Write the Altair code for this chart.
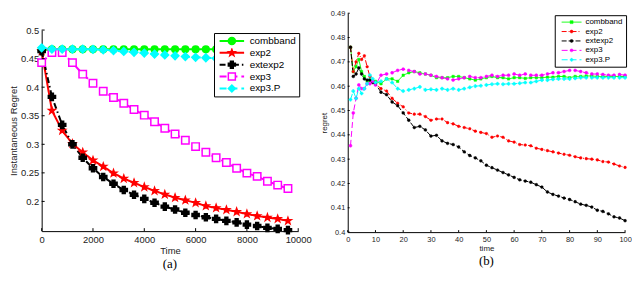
import altair as alt
import pandas as pd

FONT = "Liberation Sans"
series = ["combband", "exp2", "extexp2", "exp3", "exp3.P"]
colors = ["#00ff00", "#ff0000", "#000000", "#ff00ff", "#00ffff"]

# ---------------- panel (a) ----------------
time_a = [0, 400, 800, 1200, 1600, 2000, 2400, 2800, 3200, 3600, 4000, 4400, 4800,
          5200, 5600, 6000, 6400, 6800, 7200, 7600, 8000, 8400, 8800, 9200, 9600]
combband_a = [0.4645, 0.4662, 0.4662, 0.4662, 0.4662, 0.4662, 0.4662, 0.4662, 0.4662,
              0.4662, 0.4662, 0.4662, 0.4662, 0.4662, 0.4662, 0.4662, 0.4662, 0.4662,
              0.4662, 0.4662, 0.4662, 0.4662, 0.4662, 0.4662, 0.4662]
exp2_a = [0.463, 0.359, 0.324, 0.301, 0.286, 0.272, 0.261, 0.2495, 0.240, 0.2326, 0.2252,
          0.2185, 0.2123, 0.2066, 0.2021, 0.1976, 0.192, 0.1886, 0.1853, 0.1819, 0.178,
          0.1746, 0.1718, 0.1695, 0.166]
extexp2_a = [0.463, 0.383, 0.334, 0.300, 0.2765, 0.258, 0.2427, 0.231, 0.220, 0.2117,
             0.2044, 0.1976, 0.1909, 0.1858, 0.1802, 0.1762, 0.1723, 0.1695, 0.166,
             0.1633, 0.1593, 0.157, 0.1537, 0.152, 0.1498]
exp3_a = [0.4430, 0.4606, 0.4606, 0.4430, 0.4228, 0.407, 0.393, 0.3818, 0.372, 0.361,
          0.351, 0.3395, 0.328, 0.318, 0.307, 0.296, 0.286, 0.2765, 0.268, 0.258, 0.2495,
          0.2438, 0.2353, 0.2286, 0.2225]
exp3P_a = [0.469, 0.4665, 0.4665, 0.4665, 0.4665, 0.4662, 0.4655, 0.464, 0.4625, 0.461,
           0.4598, 0.458, 0.4565, 0.455, 0.4535, 0.4522, 0.4515, 0.4505, 0.4495, 0.4485,
           0.4475, 0.4465, 0.4455, 0.4448, 0.444]
xticks_a = [0, 2000, 4000, 6000, 8000, 10000]
yticks_a = [0.2, 0.25, 0.3, 0.35, 0.4, 0.45, 0.5]

# ---------------- panel (b) ----------------
time_b = [1, 2, 3, 4, 5, 6, 7, 8, 9, 10, 12, 14, 16, 18, 20, 22, 24, 26, 28, 30, 32, 34,
          36, 38, 40, 42, 44, 46, 48, 50, 52, 54, 56, 58, 60, 62, 64, 66, 68, 70, 72, 74,
          76, 78, 80, 82, 84, 86, 88, 90, 92, 94, 96, 98, 100]
combband_b = [0.476, 0.466, 0.468, 0.471, 0.466, 0.464, 0.462, 0.4625, 0.462, 0.462,
              0.461, 0.463, 0.463, 0.462, 0.4645, 0.4655, 0.466, 0.4655, 0.465, 0.4645,
              0.4635, 0.4635, 0.4635, 0.464, 0.464, 0.4635, 0.463, 0.4625, 0.463, 0.4635,
              0.464, 0.4635, 0.4635, 0.463, 0.4635, 0.4635, 0.4632, 0.4635, 0.4635, 0.4635,
              0.4637, 0.4637, 0.464, 0.464, 0.4635, 0.464, 0.464, 0.4642, 0.4642, 0.464,
              0.464, 0.464, 0.464, 0.464, 0.464]
exp2_b = [0.476, 0.466, 0.470, 0.4735, 0.471, 0.4725, 0.468, 0.464, 0.462, 0.461,
          0.459, 0.458, 0.455, 0.453, 0.4515, 0.449, 0.4485, 0.4485, 0.4475, 0.446,
          0.4465, 0.4465, 0.445, 0.4445, 0.4435, 0.443, 0.4425, 0.4415, 0.441, 0.4405,
          0.439, 0.4395, 0.439, 0.4375, 0.437, 0.436, 0.4358, 0.4355, 0.4345, 0.434,
          0.4335, 0.433, 0.4325, 0.432, 0.4316, 0.431, 0.4305, 0.4302, 0.430, 0.4297,
          0.429, 0.4288, 0.428, 0.4272, 0.4266]
extexp2_b = [0.476, 0.464, 0.465, 0.4675, 0.465, 0.463, 0.4625, 0.4625, 0.4615, 0.461,
             0.4575, 0.4565, 0.4535, 0.452, 0.449, 0.446, 0.443, 0.4435, 0.442, 0.4395,
             0.4398, 0.4375, 0.4365, 0.436, 0.435, 0.433, 0.4315, 0.4305, 0.4293, 0.4275,
             0.4265, 0.4255, 0.4245, 0.4235, 0.4225, 0.4215, 0.421, 0.4205, 0.4195, 0.4185,
             0.4165, 0.4155, 0.4148, 0.414, 0.4134, 0.4125, 0.4115, 0.411, 0.4103, 0.409,
             0.4085, 0.4075, 0.4063, 0.4058, 0.4047]
exp3_b = [0.4355, 0.449, 0.455, 0.4605, 0.459, 0.459, 0.461, 0.461, 0.462, 0.4605,
          0.4645, 0.465, 0.4655, 0.4665, 0.467, 0.4665, 0.466, 0.465, 0.465, 0.4645,
          0.464, 0.4635, 0.463, 0.4625, 0.463, 0.4635, 0.464, 0.4635, 0.4635, 0.464,
          0.4645, 0.464, 0.4645, 0.4645, 0.465, 0.4645, 0.465, 0.4645, 0.4645, 0.4645,
          0.465, 0.4655, 0.4655, 0.466, 0.4665, 0.4665, 0.466, 0.4655, 0.465, 0.465,
          0.4648, 0.4645, 0.4645, 0.4648, 0.4645]
exp3P_b = [0.4545, 0.458, 0.455, 0.459, 0.457, 0.459, 0.461, 0.4645, 0.463, 0.4615,
           0.462, 0.463, 0.4615, 0.459, 0.458, 0.4585, 0.459, 0.4597, 0.4585, 0.4587,
           0.4585, 0.459, 0.4585, 0.459, 0.4585, 0.459, 0.4595, 0.460, 0.4602, 0.4605,
           0.4608, 0.461, 0.4608, 0.461, 0.461, 0.4612, 0.4615, 0.4615, 0.462, 0.4625,
           0.4625, 0.4628, 0.463, 0.463, 0.463, 0.4632, 0.4635, 0.4635, 0.4635, 0.4635,
           0.4635, 0.4635, 0.4635, 0.4635, 0.4635]
xticks_b = [0, 10, 20, 30, 40, 50, 60, 70, 80, 90, 100]
yticks_b = [0.4, 0.41, 0.42, 0.43, 0.44, 0.45, 0.46, 0.47, 0.48, 0.49]

STAR = "M0,-1L0.24,-0.33L0.95,-0.31L0.38,0.12L0.59,0.81L0,0.4L-0.59,0.81L-0.38,0.12L-0.95,-0.31L-0.24,-0.33Z"

# marker-legend keys (distinct from line-legend keys so the two legends stay separate)
marker_keys = ["m_" + s for s in series]


def build_df(times, cols):
    rows = []
    for name, mk, vals in zip(series, marker_keys, cols):
        for t, v in zip(times, vals):
            rows.append({"series": name, "series2": mk, "t": t, "v": v})
    return pd.DataFrame(rows)


def panel(df, W, H, xdom, ydom, xticks, yticks, xtitle, ytitle, lab_fs, tit_fs, lw,
          dashes, shapes, sizes, fills, pt_sw, legx, legy, leg_fs, leg_size, leg_path,
          leg_rowpad, sym_off, lab_off, clip_h, caption, tick_len):
    xs = alt.Scale(domain=xdom, nice=False, zero=False)
    ys = alt.Scale(domain=ydom, nice=False, zero=False)
    ax_common = dict(ticks=False, labelFontSize=lab_fs, titleFontSize=tit_fs,
                     labelFont=FONT, titleFont=FONT, titleFontWeight="normal",
                     labelColor="#222", titleColor="#222", domainColor="#000",
                     labelPadding=3, titlePadding=2, grid=False, labelFlush=False,
                     labelOverlap=False)
    xax = alt.Axis(values=xticks, format="d", title=xtitle, **ax_common)
    yax = alt.Axis(values=yticks, format="~g", title=ytitle, **ax_common)
    common_leg = dict(title=None, orient="none", legendX=legx, legendY=legy,
                      labelFontSize=leg_fs, labelFont=FONT, symbolSize=leg_size,
                      symbolOffset=sym_off, labelOffset=lab_off, rowPadding=leg_rowpad,
                      padding=3, clipHeight=clip_h)
    # line legend: white box, frame, line samples and the labels
    legA = alt.Legend(symbolType=leg_path, symbolStrokeWidth=lw, labelColor="#000",
                      symbolFillColor="transparent", strokeColor="#000",
                      fillColor="#fff", **common_leg)
    # marker legend: drawn on top of the line samples, no labels of its own
    legB = alt.Legend(symbolStrokeWidth=pt_sw, labelExpr="''", **common_leg)
    base = alt.Chart(df)
    X = alt.X("t:Q", scale=xs, axis=xax)
    Y = alt.Y("v:Q", scale=ys, axis=yax)
    lines = base.mark_line(strokeWidth=lw).encode(
        x=X, y=Y,
        color=alt.Color("series:N", scale=alt.Scale(domain=series, range=colors), legend=legA),
        strokeDash=alt.StrokeDash("series:N", scale=alt.Scale(domain=series, range=dashes), legend=legA),
    )
    pts = base.mark_point(opacity=1, strokeWidth=pt_sw).encode(
        x=X, y=Y,
        shape=alt.Shape("series2:N", scale=alt.Scale(domain=marker_keys, range=shapes), legend=legB),
        fill=alt.Fill("series2:N", scale=alt.Scale(domain=marker_keys, range=fills), legend=legB),
        stroke=alt.Stroke("series2:N", scale=alt.Scale(domain=marker_keys, range=colors), legend=legB),
        # reversed domain order keeps this (legend-less) scale from being merged with legend B
        size=alt.Size("series2:N", scale=alt.Scale(domain=marker_keys[::-1], range=sizes[::-1]),
                      legend=None),
    )
    xt = alt.Chart(pd.DataFrame({"t": xticks})).mark_rule(color="#000").encode(
        x=alt.X("t:Q", scale=xs, axis=xax), y=alt.value(H), y2=alt.value(H - tick_len))
    yt = alt.Chart(pd.DataFrame({"v": yticks})).mark_rule(color="#000").encode(
        y=alt.Y("v:Q", scale=ys, axis=yax), x=alt.value(0), x2=alt.value(tick_len))
    return alt.layer(lines, pts, xt, yt).properties(width=W, height=H, title=caption)


def cap(text):
    return alt.TitleParams(text=text, orient="bottom", font="Liberation Serif", fontSize=13,
                           fontWeight="normal", anchor="middle", offset=3, color="#000")


df_a = build_df(time_a, [combband_a, exp2_a, extexp2_a, exp3_a, exp3P_a])
df_b = build_df(time_b, [combband_b, exp2_b, extexp2_b, exp3_b, exp3P_b])

W_A, H_A = 259, 203
W_B, H_B = 280, 221

panel_a = panel(df_a, W_A, H_A, [0, 10000], [0.148, 0.5], xticks_a, yticks_a,
                "Time", "Instantaneous Regret", 9.5, 9.5, 2,
                [[1, 0], [1, 0], [6, 3, 1.5, 3], [7, 4], [7, 4]],
                ["circle", STAR, "cross", "square", "diamond"],
                [55, 38, 22, 45, 60],
                ["#00ff00", "#ff0000", "#000000", "#ffffff", "#00ffff"],
                1.5, 174, 3, 10, 50, "M-3.5,0L3.5,0", 2, 10, 13, 10, cap("(a)"), 3)

panel_b = panel(df_b, W_B, H_B, [0, 100], [0.4, 0.49], xticks_b, yticks_b,
                "time", "regret", 7.5, 8, 1,
                [[1, 0], [5, 2, 1, 2], [5, 2], [6, 3], [6, 3]],
                ["square", "circle", "circle", "circle", "cross"],
                [6, 6, 6, 6, 10],
                colors,
                0.5, 209, 2, 8, 9, "M-6.67,0L6.67,0", 1.5, 10, 10, 8, cap("(b)"), 2)

res = dict(color="independent", strokeDash="independent", fill="independent",
           stroke="independent", shape="independent", size="independent",
           x="independent", y="independent")

spacer = alt.Chart(pd.DataFrame({"t": [0]})).mark_point(opacity=0).encode(
    x=alt.value(0), y=alt.value(0)).properties(width=W_A, height=12)

left = alt.vconcat(spacer, panel_a, spacing=0).resolve_scale(**res)

chart = alt.hconcat(left, panel_b, spacing=8).resolve_scale(**res).properties(
    padding=0).configure_view(stroke=None)

chart.save("out.html", embed_options={"renderer": "svg", "actions": False})
